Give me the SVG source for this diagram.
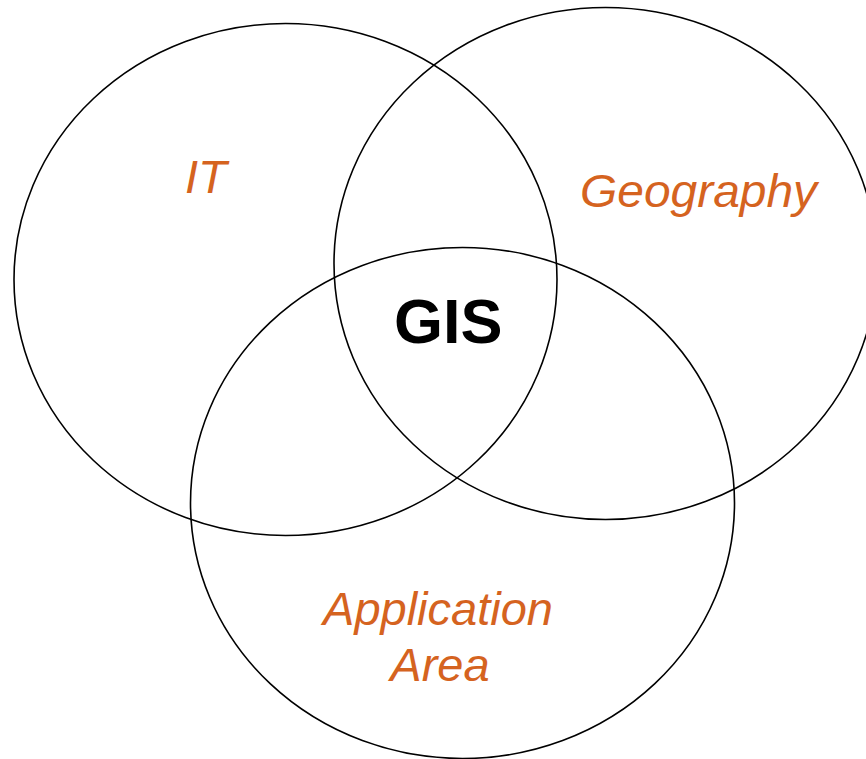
<svg xmlns="http://www.w3.org/2000/svg" width="866" height="759" viewBox="0 0 866 759">
  <style>
    .set { fill: none; stroke: #000; stroke-width: 1.6; }
    .label { font-family: "Liberation Sans", Arial, sans-serif; font-style: italic; font-size: 47px; fill: #D5631F; }
    .core { font-family: "Liberation Sans", Arial, sans-serif; font-weight: bold; font-size: 63px; fill: #000; }
  </style>
  <rect width="866" height="759" fill="#fff"/>
  <g id="it">
    <ellipse class="set" cx="285.5" cy="279.5" rx="271.5" ry="256"/>
    <text class="label" x="185" y="193">IT</text>
  </g>
  <g id="geography">
    <ellipse class="set" cx="605.5" cy="263.5" rx="271.5" ry="256"/>
    <text class="label" x="580" y="207" textLength="237" lengthAdjust="spacingAndGlyphs">Geography</text>
  </g>
  <g id="application-area">
    <ellipse class="set" cx="462.5" cy="503" rx="272" ry="255.5"/>
    <text class="label" text-anchor="middle" x="438" y="625">Application</text>
    <text class="label" text-anchor="middle" x="440" y="681">Area</text>
  </g>
  <g id="gis">
    <text class="core" x="394" y="343">GIS</text>
  </g>
</svg>
